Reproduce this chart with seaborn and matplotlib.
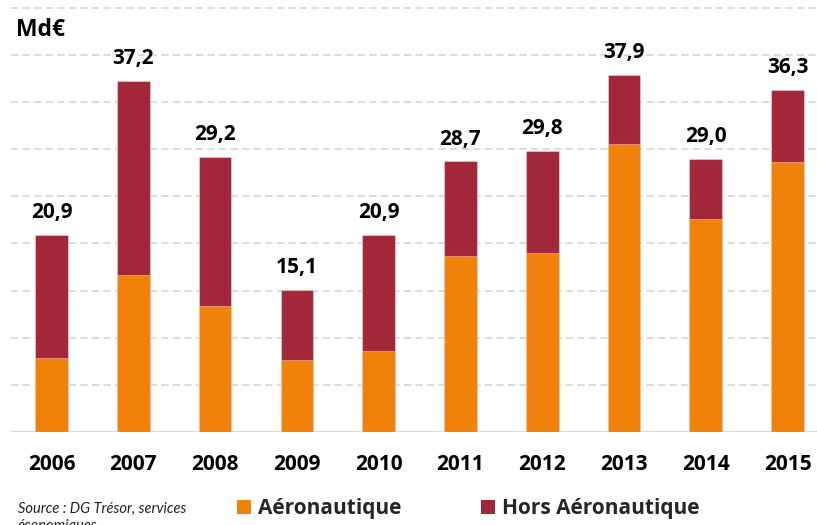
import matplotlib
matplotlib.use("Agg")
import matplotlib.pyplot as plt
from matplotlib.patches import Patch
import seaborn as sns
import pandas as pd

# Exports by year, billions of euros
years = ["2006", "2007", "2008", "2009", "2010", "2011", "2012", "2013", "2014", "2015"]
totals = [20.9, 37.2, 29.2, 15.1, 20.9, 28.7, 29.8, 37.9, 29.0, 36.3]
aero = [7.9, 16.6, 13.4, 7.6, 8.6, 18.7, 19.0, 30.5, 22.6, 28.6]
series_names = ["Aéronautique", "Hors Aéronautique"]
unit_label = "Md€"
source_note = "Source : DG Trésor, services\néconomiques"

ORANGE = "#F0820C"
RED = "#A22739"
GRID = "#D9D9D9"
BOLD_FAMILY = ["Open Sans", "DejaVu Sans"]

sns.set_theme(style="white")
plt.rcParams["font.family"] = ["Lato", "DejaVu Sans"]

df = pd.DataFrame({"year": years, "total": totals, "aero": aero})

fig = plt.figure(figsize=(8.17, 5.25), dpi=100)
ax = fig.add_axes([0.013, 0.1771, 0.987, 0.8137])

# Full bar height = total (non-aero shows above), aero stacked from the base
sns.barplot(data=df, x="year", y="total", color=RED, width=0.4, ax=ax,
            edgecolor=(1, 1, 1, 0.35), linewidth=0.8, saturation=1, zorder=3)
sns.barplot(data=df, x="year", y="aero", color=ORANGE, width=0.4, ax=ax,
            edgecolor=(1, 1, 1, 0.35), linewidth=0.8, saturation=1, zorder=3)

ax.set_ylim(0, 45.3)
ax.set_xlim(-0.5, 9.36)
ax.set_yticks([5, 10, 15, 20, 25, 30, 35, 40, 45])
ax.set_yticklabels([])
ax.yaxis.grid(True, color=GRID, linewidth=1.3, linestyle=(0, (4.0, 2.4)), zorder=0)
ax.xaxis.grid(False)
for s in ax.spines.values():
    s.set_visible(False)
ax.axhline(0, color=GRID, linewidth=1.6, zorder=2)
ax.set_xlabel("")
ax.set_ylabel("")
ax.tick_params(axis="x", length=0, pad=16, labelsize=15)
ax.tick_params(axis="y", length=0)
for lbl in ax.get_xticklabels():
    lbl.set_fontweight("bold")
    lbl.set_family(BOLD_FAMILY)
    lbl.set_color("black")

for i, t in enumerate(totals):
    ax.annotate(f"{t:.1f}".replace(".", ","), xy=(i, t), xytext=(0, 8.5),
                textcoords="offset points", ha="center", va="bottom",
                fontsize=15, fontweight="bold", family=BOLD_FAMILY, color="black")

fig.text(16 / 817, 1 - 36 / 525, unit_label, fontsize=16.5, fontweight="bold",
         family=BOLD_FAMILY, color="black", va="baseline", ha="left")

# two-line note; the second line runs off the bottom edge
fig.text(18 / 817, -5 / 525, source_note, fontsize=10.5, fontstyle="italic",
         color="#222222", va="baseline", ha="left", linespacing=1.3)

handles = [Patch(facecolor=ORANGE, edgecolor="none"),
           Patch(facecolor=RED, edgecolor="none")]
leg = fig.legend(handles, series_names, loc="lower left",
                 bbox_to_anchor=(222 / 817, -0.017), ncol=2, frameon=False,
                 prop={"size": 15, "weight": "bold", "family": BOLD_FAMILY},
                 handlelength=0.68, handleheight=0.68, handletextpad=0.33,
                 columnspacing=3.85, borderpad=0.2)

fig.savefig("out.png", dpi=100)
